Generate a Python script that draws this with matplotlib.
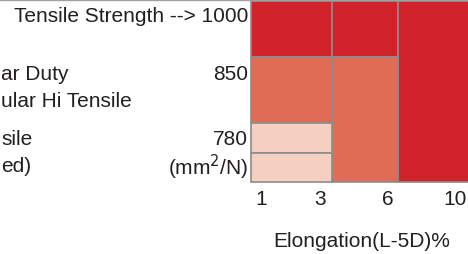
import matplotlib
matplotlib.use("Agg")
import matplotlib.pyplot as plt

plt.rcParams["font.family"] = ["Liberation Sans", "DejaVu Sans"]

# ---------------------------------------------------------------------------
# Data
# ---------------------------------------------------------------------------
elong_ticks = ["1", "3", "6", "10"]
strength_labels = ["Tensile Strength --> 1000", "850", "780", "(mm$^2$/N)"]
# grade names as far as they are visible in the (cropped) picture
grade_names = ["ar Duty", "ular Hi Tensile", "sile", "ed)"]

# cells: (first col, last col, first row, last row, level)
cell_col0 = [0, 1, 2, 0, 1, 0, 0]
cell_col1 = [0, 1, 2, 0, 1, 0, 0]
cell_row0 = [0, 0, 0, 1, 1, 2, 3]
cell_row1 = [0, 0, 3, 1, 3, 2, 3]
cell_level = [3, 3, 3, 2, 2, 1, 1]

# ---------------------------------------------------------------------------
# Layout / style
# ---------------------------------------------------------------------------
W, H = 468, 255
COL_EDGES = [251, 332, 398, 476]
ROW_EDGES = [2, 58, 124, 154, 183]
TICK_X = [261, 320, 388, 455]
TICK_Y = 200
LABEL_Y = [17, 75, 140, 167]
GRADE_Y = [75, 102, 140, 167]
LEVEL_CLR = {1: "#f5cfc0", 2: "#e06c55", 3: "#d2232b"}
EDGE_CLR = "#8c8c8c"
TEXT_CLR = "#231f20"
FS = 15

fig = plt.figure(figsize=(W / 100, H / 100), dpi=100)
ax = fig.add_axes([0, 0, 1, 1])
ax.set_xlim(0, W)
ax.set_ylim(H, 0)
ax.axis("off")

# top frame line
ax.plot([0, W], [0.6, 0.6], color="#a0a0a0", lw=1.0)

for c0, c1, r0, r1, lv in zip(cell_col0, cell_col1, cell_row0, cell_row1, cell_level):
    x0, x1 = COL_EDGES[c0], COL_EDGES[c1 + 1]
    y0, y1 = ROW_EDGES[r0], ROW_EDGES[r1 + 1]
    ax.bar(x0, y1 - y0, width=x1 - x0, bottom=y0, align="edge",
           color=LEVEL_CLR[lv], edgecolor=EDGE_CLR, linewidth=1.2)

for lab, y in zip(strength_labels, LABEL_Y):
    ax.text(248, y, lab, ha="right", va="center", fontsize=FS, color=TEXT_CLR)

for name, y in zip(grade_names, GRADE_Y):
    ax.text(1, y, name, ha="left", va="center", fontsize=FS, color=TEXT_CLR)

for lab, x in zip(elong_ticks, TICK_X):
    ax.text(x, TICK_Y, lab, ha="center", va="center", fontsize=FS, color=TEXT_CLR)

ax.text(362, 242, "Elongation(L-5D)%", ha="center", va="center",
        fontsize=FS, color=TEXT_CLR)

fig.savefig("out.png", dpi=100)
